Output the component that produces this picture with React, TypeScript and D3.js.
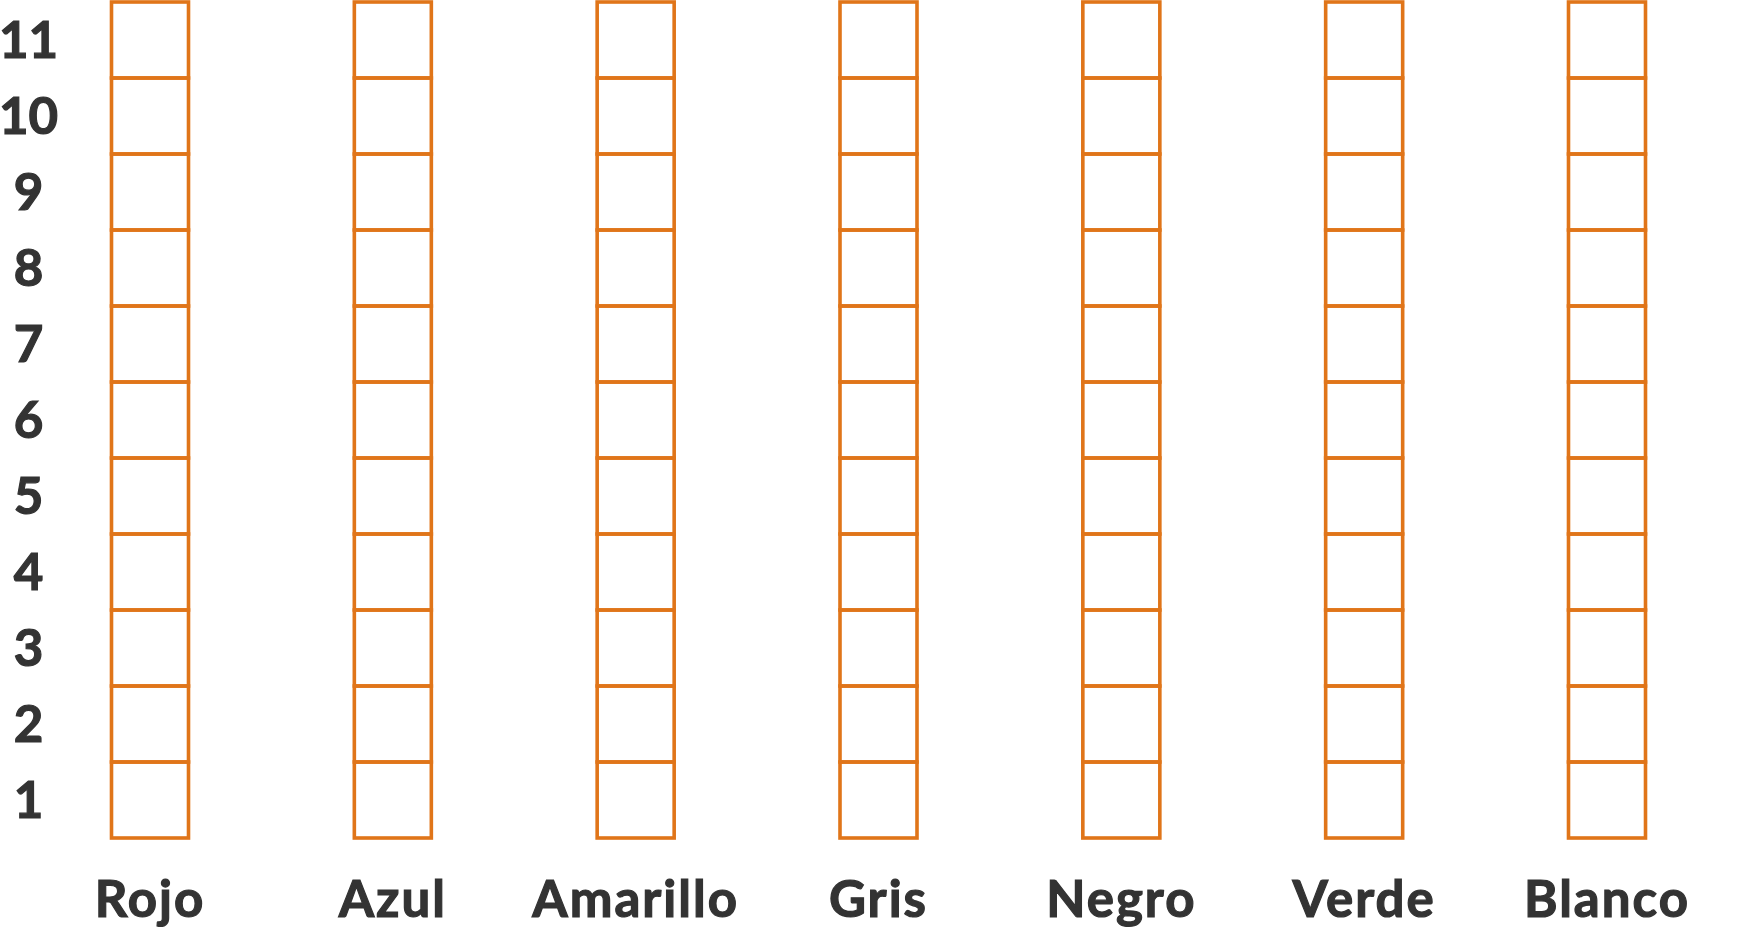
import React, { useRef, useEffect } from "react";
import * as d3 from "d3";

// Column categories and row levels
const categories = ["Rojo", "Azul", "Amarillo", "Gris", "Negro", "Verde", "Blanco"];
const levels = [1, 2, 3, 4, 5, 6, 7, 8, 9, 10, 11];
const tickLabels = ["1", "2", "3", "4", "5", "6", "7", "8", "9", "10", "11"];

const WIDTH = 1740;
const HEIGHT = 940;
const ORANGE = "#e07519";
const TEXT = "#333333";
const FONT = "Lato, 'Open Sans', sans-serif";

export default function App() {
  const svgRef = useRef<SVGSVGElement>(null);

  useEffect(() => {
    if (!svgRef.current) return;
    const svg = d3.select(svgRef.current);
    svg.selectAll("*").remove();

    // column centres
    const x = d3.scalePoint<string>()
      .domain(categories)
      .range([150, 1607]);

    // rows, bottom to top
    const y = d3.scaleBand<number>()
      .domain(levels)
      .range([838, 2])
      .padding(0);

    const cellW = 77;

    const cols = svg.append("g");
    categories.forEach(cat => {
      const cx = x(cat) as number;
      cols.append("g")
        .selectAll("rect")
        .data(levels)
        .join("rect")
        .attr("x", cx - cellW / 2)
        .attr("y", d => y(d) as number)
        .attr("width", cellW)
        .attr("height", y.bandwidth())
        .attr("fill", "none")
        .attr("stroke", ORANGE)
        .attr("stroke-width", 3.6);
    });

    // y tick labels
    svg.append("g")
      .selectAll("text")
      .data(levels)
      .join("text")
      .attr("x", 28.5)
      .attr("y", d => (y(d) as number) + y.bandwidth() / 2 + 17.5)
      .attr("text-anchor", "middle")
      .style("font-family", FONT)
      .style("font-weight", 700)
      .style("font-size", "51px")
      .style("fill", TEXT)
      .style("stroke", TEXT)
      .style("stroke-width", 1.2)
      .text((d, i) => tickLabels[i]);

    // category labels
    svg.append("g")
      .selectAll("text")
      .data(categories)
      .join("text")
      .attr("x", d => x(d) as number)
      .attr("y", 917)
      .attr("text-anchor", "middle")
      .style("font-family", FONT)
      .style("font-weight", 700)
      .style("font-size", "51px")
      .style("letter-spacing", "2px")
      .style("fill", TEXT)
      .style("stroke", TEXT)
      .style("stroke-width", 1.2)
      .text(d => d);
  }, []);

  return (
    <svg
      ref={svgRef}
      width={WIDTH}
      height={HEIGHT}
      style={{ position: "absolute", left: 0, top: 0, background: "#ffffff" }}
    />
  );
}
